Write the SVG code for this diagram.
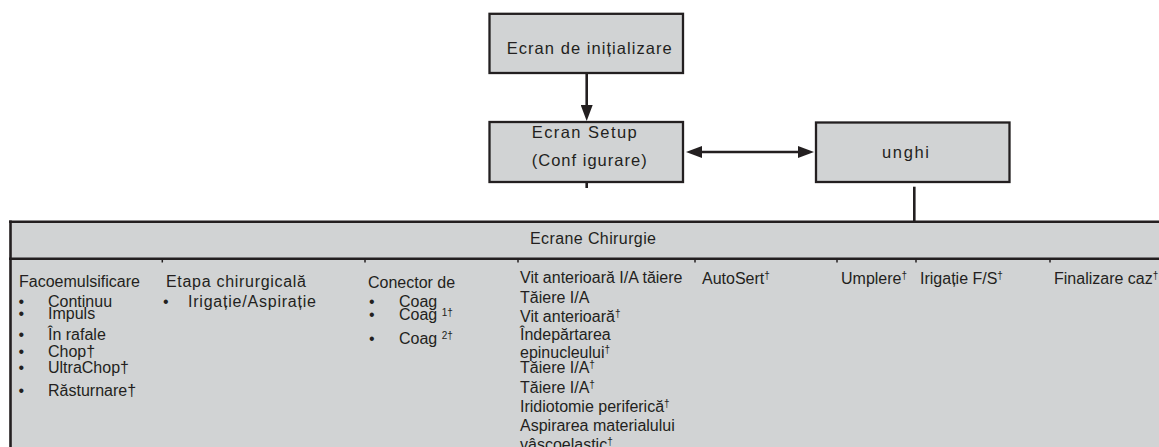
<svg xmlns="http://www.w3.org/2000/svg" width="1159" height="447" viewBox="0 0 1159 447">
<style>
.box{fill:#d1d3d4;stroke:#231f20;stroke-width:2.3}
.t{font-family:"Liberation Sans",Arial,sans-serif;font-size:16px;fill:#231f20}
.bt{font-size:16.5px}
.ln{stroke:#231f20;stroke-width:2.6;fill:none}
.tk{stroke:#231f20;stroke-width:1.5}
.sup{font-size:10px}
</style>
<defs>
<marker id="ah" viewBox="0 0 16 12" refX="0" refY="6" markerWidth="16" markerHeight="12" markerUnits="userSpaceOnUse" orient="auto-start-reverse">
<path d="M0,0 L16,6 L0,12 z" fill="#231f20"/>
</marker>
</defs>
<rect width="1159" height="447" fill="#ffffff"/>

<g id="connectors">
<line class="ln" x1="586.7" y1="74" x2="586.7" y2="105" stroke-width="3" marker-end="url(#ah)"/>
<line class="ln" x1="586.7" y1="183" x2="586.7" y2="188" stroke-width="1.5"/>
<line class="ln" x1="702" y1="152" x2="798" y2="152" marker-start="url(#ah)" marker-end="url(#ah)"/>
<line class="ln" x1="914.3" y1="186.7" x2="914.3" y2="222" stroke-width="3"/>
</g>

<g id="ecran-initializare">
<rect class="box" x="489.5" y="13.8" width="193.5" height="59.2"/>
<text class="t bt" x="506.7" y="54" textLength="165" lengthAdjust="spacing">Ecran de inițializare</text>
</g>

<g id="ecran-setup">
<rect class="box" x="489.5" y="122" width="193.5" height="60"/>
<text class="t bt" x="531.7" y="138.3" textLength="105" lengthAdjust="spacing">Ecran Setup</text>
<text class="t bt" x="531.7" y="165.5" textLength="115" lengthAdjust="spacing">(Conf igurare)</text>
</g>

<g id="unghi">
<rect class="box" x="816" y="122.5" width="193.5" height="59.5"/>
<text class="t bt" x="882" y="157.5" textLength="47" lengthAdjust="spacing">unghi</text>
</g>

<g id="ecrane-chirurgie">
<rect x="10.5" y="221.7" width="1150" height="230" fill="#d1d3d4"/>
<line class="ln" x1="9" y1="221.7" x2="1159" y2="221.7"/>
<line class="ln" x1="10.5" y1="220.5" x2="10.5" y2="447" stroke-width="3"/>
<line class="ln" x1="9" y1="258.8" x2="1159" y2="258.8" stroke-width="2.5"/>
<line class="tk" x1="162.3" y1="258.8" x2="162.3" y2="262.5"/>
<line class="tk" x1="365" y1="258.8" x2="365" y2="262.5"/>
<line class="tk" x1="518" y1="258.8" x2="518" y2="262.5"/>
<line class="tk" x1="695" y1="258.8" x2="695" y2="262.5"/>
<line class="tk" x1="837" y1="258.8" x2="837" y2="262.5"/>
<line class="tk" x1="916" y1="258.8" x2="916" y2="262.5"/>
<line class="tk" x1="1050" y1="258.8" x2="1050" y2="262.5"/>
<text class="t" x="530" y="244" textLength="126" lengthAdjust="spacing">Ecrane Chirurgie</text>

<g id="col-facoemulsificare">
<text class="t" x="19" y="287">Facoemulsificare</text>
<text class="t" x="18.5" y="307">•</text><text class="t" x="48" y="307">Continuu</text>
<text class="t" x="18.5" y="319">•</text><text class="t" x="48" y="319">Impuls</text>
<text class="t" x="18.5" y="340">•</text><text class="t" x="48" y="340">În rafale</text>
<text class="t" x="18.5" y="357">•</text><text class="t" x="48" y="357">Chop†</text>
<text class="t" x="18.5" y="373">•</text><text class="t" x="48" y="373">UltraChop†</text>
<text class="t" x="18.5" y="396">•</text><text class="t" x="48" y="396">Răsturnare†</text>
</g>

<g id="col-etapa">
<text class="t" x="166" y="287" textLength="140" lengthAdjust="spacing">Etapa chirurgicală</text>
<text class="t" x="163" y="307">•</text><text class="t" x="188" y="307" textLength="128" lengthAdjust="spacing">Irigație/Aspirație</text>
</g>

<g id="col-conector">
<text class="t" x="368" y="288">Conector de</text>
<text class="t" x="369" y="307">•</text><text class="t" x="399" y="307">Coag</text>
<text class="t" x="369" y="320">•</text><text class="t" x="399" y="320">Coag <tspan class="sup" dy="-4">1†</tspan></text>
<text class="t" x="369" y="344">•</text><text class="t" x="399" y="344">Coag <tspan class="sup" dy="-5">2†</tspan></text>
</g>

<g id="col-vit">
<text class="t" x="520" y="283">Vit anterioară I/A tăiere</text>
<text class="t" x="520" y="303">Tăiere I/A</text>
<text class="t" x="520" y="322">Vit anterioară<tspan class="sup" dy="-5">†</tspan></text>
<text class="t" x="520" y="340">Îndepărtarea</text>
<text class="t" x="520" y="358">epinucleului<tspan class="sup" dy="-5">†</tspan></text>
<text class="t" x="520" y="373">Tăiere I/A<tspan class="sup" dy="-5">†</tspan></text>
<text class="t" x="520" y="393">Tăiere I/A<tspan class="sup" dy="-5">†</tspan></text>
<text class="t" x="520" y="412">Iridiotomie periferică<tspan class="sup" dy="-5">†</tspan></text>
<text class="t" x="520" y="431">Aspirarea materialului</text>
<text class="t" x="520" y="450">vâscoelastic<tspan class="sup" dy="-5">†</tspan></text>
</g>

<g id="col-autosert"><text class="t" x="702" y="284">AutoSert<tspan class="sup" dy="-5">†</tspan></text></g>
<g id="col-umplere"><text class="t" x="841" y="284">Umplere<tspan class="sup" dy="-5">†</tspan></text></g>
<g id="col-irigatie"><text class="t" x="920" y="284">Irigație F/S<tspan class="sup" dy="-5">†</tspan></text></g>
<g id="col-finalizare"><text class="t" x="1054" y="284">Finalizare caz<tspan class="sup" dy="-5">†</tspan></text></g>
</g>
</svg>
